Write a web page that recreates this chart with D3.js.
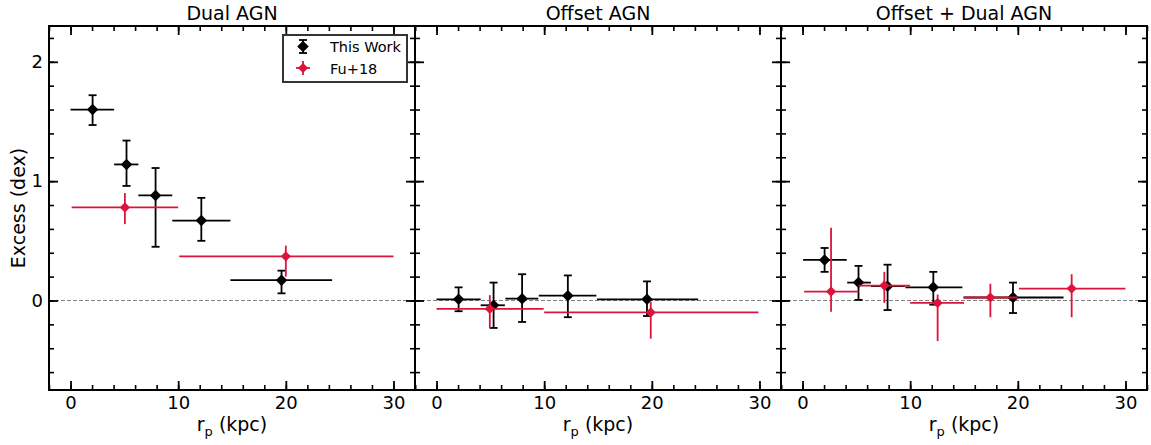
<!DOCTYPE html>
<html>
<head>
<meta charset="utf-8">
<script src="https://cdn.jsdelivr.net/npm/d3@7"></script>
<style>
  body { margin: 0; background: #fff; }
  svg { display: block; font-family: 'DejaVu Sans', sans-serif; }
</style>
</head>
<body>
<svg id="chart" width="1151" height="445"></svg>
<script>
// panel titles
const panelTitles = ['Dual AGN', 'Offset AGN', 'Offset + Dual AGN'];

// This Work (black): centres, x bins, y values, y error ranges [low, high]
const workX = [
  [2.05, 5.2, 7.9, 12.15, 19.6],
  [2.05, 5.3, 7.95, 12.2, 19.55],
  [2.05, 5.2, 7.9, 12.15, 19.55],
];
const workBins = [
  [[0, 4.05], [4.05, 6.3], [6.3, 9.45], [9.45, 14.85], [14.85, 24.3]],
  [[0, 4.1], [4.1, 6.35], [6.4, 9.45], [9.5, 14.85], [14.9, 24.3]],
  [[0.05, 4.1], [4.15, 6.35], [6.35, 9.5], [9.55, 14.85], [14.95, 24.25]],
];
const workY = [
  [1.60, 1.14, 0.88, 0.67, 0.17],
  [0.01, -0.04, 0.015, 0.04, 0.01],
  [0.34, 0.15, 0.12, 0.11, 0.025],
];
const workYErr = [
  [[1.47, 1.72], [0.96, 1.34], [0.45, 1.11], [0.50, 0.86], [0.06, 0.25]],
  [[-0.09, 0.11], [-0.23, 0.15], [-0.18, 0.22], [-0.14, 0.21], [-0.13, 0.16]],
  [[0.24, 0.44], [0.005, 0.29], [-0.08, 0.30], [-0.035, 0.24], [-0.105, 0.15]],
];

// Fu+18 (red)
const fuX = [
  [5.05, 20.0],
  [4.95, 19.9],
  [2.65, 7.6, 12.55, 17.45, 25.0],
];
const fuBins = [
  [[0.1, 10], [10.1, 30]],
  [[0, 9.95], [10, 29.9]],
  [[0.15, 5.2], [5.2, 10], [10, 15], [15, 20], [20.1, 30]],
];
const fuY = [
  [0.78, 0.37],
  [-0.07, -0.10],
  [0.075, 0.125, -0.02, 0.025, 0.10],
];
const fuYErr = [
  [[0.64, 0.90], [0.20, 0.46]],
  [[-0.23, 0.045], [-0.32, -0.01]],
  [[-0.095, 0.61], [-0.02, 0.24], [-0.34, 0.05], [-0.14, 0.14], [-0.14, 0.22]],
];

const xMajor = [0, 10, 20, 30];
const xMinor = d3.range(-2, 33, 2);
const yMajor = [0, 1, 2];
const yMinor = d3.range(-0.6, 2.3, 0.2).map((v) => +v.toFixed(1));

const red = '#dc143c';
const panelLeft = 49;
const panelWidth = 366;
const plotTop = 26;
const plotBottom = 390;

const svg = d3.select('#chart');

const x = d3.scaleLinear().domain([-2, 32]).range([0, panelWidth]);
const y = d3.scaleLinear().domain([-0.75, 2.3]).range([plotBottom, plotTop]);

const diamond = (area) => d3.symbol(d3.symbolSquare, area)();

function drawAxes(g, showYLabels) {
  const axes = [
    [d3.axisBottom(x), `translate(0,${plotBottom})`, xMajor, xMinor, true],
    [d3.axisTop(x), `translate(0,${plotTop})`, xMajor, xMinor, false],
    [d3.axisLeft(y), 'translate(0,0)', yMajor, yMinor, showYLabels],
    [d3.axisRight(y), `translate(${panelWidth},0)`, yMajor, yMinor, false],
  ];
  axes.forEach(([axis, tr, major, minor, labels]) => {
    g.append('g')
      .attr('transform', tr)
      .call(axis.tickValues(minor).tickSize(-5).tickFormat(''))
      .call((s) => s.select('.domain').remove())
      .call((s) => s.selectAll('line').attr('stroke', '#000').attr('stroke-width', 1.6));
    g.append('g')
      .attr('transform', tr)
      .call(axis.tickValues(major).tickSize(-9).tickPadding(6)
        .tickFormat(labels ? d3.format('d') : ''))
      .call((s) => s.select('.domain').remove())
      .call((s) => s.selectAll('line').attr('stroke', '#000').attr('stroke-width', 1.8))
      .call((s) => s.selectAll('text')
        .attr('fill', '#000')
        .style('font-size', '18px')
        .style('font-family', "'DejaVu Sans', sans-serif"));
  });
}

function drawSeries(g, { xs, bins, ys, errs, color, caps, area }) {
  const pts = xs.map((d, i) => ({ x: d, bin: bins[i], y: ys[i], err: errs[i] }));
  const s = g.append('g');
  s.selectAll('line.xerr')
    .data(pts)
    .join('line')
    .attr('x1', (d) => x(d.bin[0]))
    .attr('x2', (d) => x(d.bin[1]))
    .attr('y1', (d) => y(d.y))
    .attr('y2', (d) => y(d.y))
    .attr('stroke', color)
    .attr('stroke-width', 1.8);
  s.selectAll('line.yerr')
    .data(pts)
    .join('line')
    .attr('x1', (d) => x(d.x))
    .attr('x2', (d) => x(d.x))
    .attr('y1', (d) => y(d.err[0]))
    .attr('y2', (d) => y(d.err[1]))
    .attr('stroke', color)
    .attr('stroke-width', 1.8);
  if (caps) {
    pts.forEach((d) => {
      d.err.forEach((e) => {
        s.append('line')
          .attr('x1', x(d.x) - 4)
          .attr('x2', x(d.x) + 4)
          .attr('y1', y(e))
          .attr('y2', y(e))
          .attr('stroke', color)
          .attr('stroke-width', 1.8);
      });
    });
  }
  s.selectAll('path')
    .data(pts)
    .join('path')
    .attr('d', diamond(area))
    .attr('transform', (d) => `translate(${x(d.x)},${y(d.y)}) rotate(45)`)
    .attr('fill', color);
}

panelTitles.forEach((title, p) => {
  const g = svg.append('g')
    .attr('transform', `translate(${panelLeft + p * panelWidth},0)`);

  // zero line
  g.append('line')
    .attr('x1', 0)
    .attr('x2', panelWidth)
    .attr('y1', y(0))
    .attr('y2', y(0))
    .attr('stroke', '#808080')
    .attr('stroke-width', 1)
    .attr('stroke-dasharray', '4,2');

  drawSeries(g, {
    xs: workX[p], bins: workBins[p], ys: workY[p], errs: workYErr[p],
    color: '#000', caps: true, area: 66,
  });
  drawSeries(g, {
    xs: fuX[p], bins: fuBins[p], ys: fuY[p], errs: fuYErr[p],
    color: red, caps: false, area: 52,
  });

  drawAxes(g, p === 0);

  g.append('rect')
    .attr('x', 0)
    .attr('y', plotTop)
    .attr('width', panelWidth)
    .attr('height', plotBottom - plotTop)
    .attr('fill', 'none')
    .attr('stroke', '#000')
    .attr('stroke-width', 2);

  g.append('text')
    .attr('x', panelWidth / 2)
    .attr('y', 20)
    .attr('text-anchor', 'middle')
    .style('font-size', '19px')
    .text(title);

  const xl = g.append('text')
    .attr('x', panelWidth / 2)
    .attr('y', 431)
    .attr('text-anchor', 'middle')
    .style('font-size', '19px');
  xl.append('tspan').text('r');
  xl.append('tspan').attr('dy', 5).style('font-size', '13px').text('p');
  xl.append('tspan').attr('dy', -5).text(' (kpc)');
});

svg.append('text')
  .attr('transform', 'translate(25,208) rotate(-90)')
  .attr('text-anchor', 'middle')
  .style('font-size', '19px')
  .text('Excess (dex)');

// legend
const legend = svg.append('g').attr('transform', 'translate(283,35)');
legend.append('rect')
  .attr('width', 124)
  .attr('height', 47)
  .attr('fill', '#fff')
  .attr('stroke', '#333')
  .attr('stroke-width', 2);
const lx = 20;
legend.append('line')
  .attr('x1', lx).attr('x2', lx).attr('y1', 5).attr('y2', 18)
  .attr('stroke', '#000').attr('stroke-width', 1.8);
[5, 18].forEach((yy) => {
  legend.append('line')
    .attr('x1', lx - 4).attr('x2', lx + 4).attr('y1', yy).attr('y2', yy)
    .attr('stroke', '#000').attr('stroke-width', 1.8);
});
legend.append('path')
  .attr('d', diamond(66))
  .attr('transform', `translate(${lx},11.5) rotate(45)`)
  .attr('fill', '#000');
legend.append('line')
  .attr('x1', lx).attr('x2', lx).attr('y1', 26).attr('y2', 40)
  .attr('stroke', red).attr('stroke-width', 1.8);
legend.append('line')
  .attr('x1', lx - 7).attr('x2', lx + 7).attr('y1', 33).attr('y2', 33)
  .attr('stroke', red).attr('stroke-width', 1.8);
legend.append('path')
  .attr('d', diamond(52))
  .attr('transform', `translate(${lx},33) rotate(45)`)
  .attr('fill', red);
legend.selectAll('text.lbl')
  .data(['This Work', 'Fu+18'])
  .join('text')
  .attr('x', 47)
  .attr('y', (d, i) => 17 + i * 22)
  .style('font-size', '14.5px')
  .text((d) => d);
</script>
</body>
</html>
